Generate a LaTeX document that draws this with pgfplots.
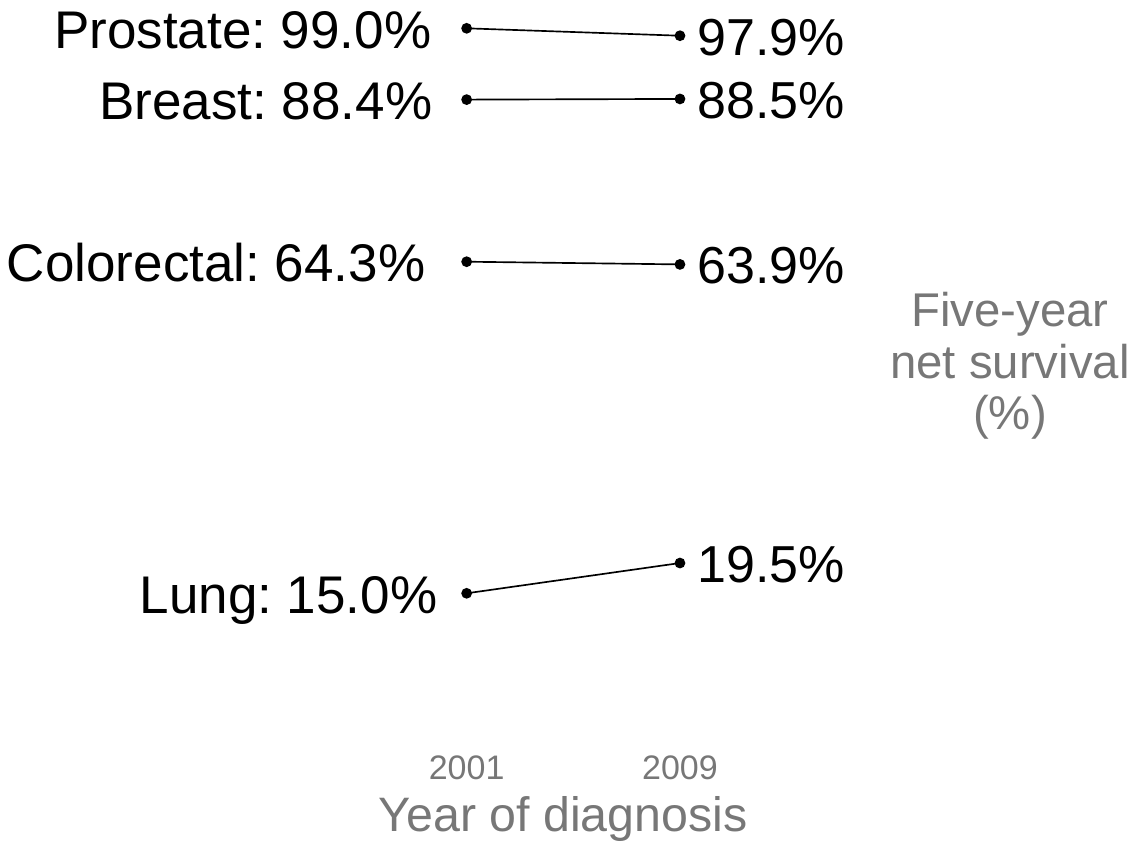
\documentclass[border=0pt]{standalone}
\usepackage{fontspec}
\setmainfont{Liberation Sans}
\usepackage{pgfplots}
\usepackage{pgfplotstable}
\pgfplotsset{compat=1.18}
\definecolor{labgrey}{RGB}{119,119,119}
\frenchspacing

% 2001 values, label text, horizontal offset of the label (pt)
\pgfplotstableread[col sep=comma]{
x,y,dx,lab
2001,99.0,-10.4,Prostate: 99.0\%
2001,88.4,-10.1,Breast: 88.4\%
2001,64.3,-12.2,Colorectal: 64.3\%
2001,15.0,-8.6,Lung: 15.0\%
}\lefttab
% 2009 values
\pgfplotstableread[col sep=comma]{
x,y,lab
2009,97.9,97.9\%
2009,88.5,88.5\%
2009,63.9,63.9\%
2009,19.5,19.5\%
}\righttab

\begin{document}
\begin{tikzpicture}
\begin{axis}[
    scale only axis, width=341.1pt, height=222pt,
    xmin=1983.50, xmax=2026.14, ymin=-6.81, ymax=103.21,
    axis line style={draw=none}, tick style={draw=none}, major tick length=0pt,
    xtick={2001,2009}, xticklabels={2001,2009}, ytick=\empty,
    xticklabel style={font=\fontsize{10.2}{12}\selectfont, text=labgrey, anchor=base, yshift=-12pt},
    xlabel={Year of diagnosis},
    every axis x label/.style={at={(rel axis cs:0.4952,0)}, anchor=base, yshift=-27.4pt,
        font=\fontsize{14.5}{17}\selectfont, text=labgrey},
    ylabel={Five-year\\net survival\\(\%)},
    every axis y label/.style={at={(rel axis cs:0.8883,0.5054)}, anchor=center, align=center,
        inner sep=0pt, font=\fontsize{14.2}{15.5}\selectfont, text=labgrey},
    clip=false,
]
\addplot[black, line width=0.5pt, mark=*, mark size=1.35pt] coordinates {(2001,99.0) (2009,97.9)};
\addplot[black, line width=0.5pt, mark=*, mark size=1.35pt] coordinates {(2001,88.4) (2009,88.5)};
\addplot[black, line width=0.5pt, mark=*, mark size=1.35pt] coordinates {(2001,64.3) (2009,63.9)};
\addplot[black, line width=0.5pt, mark=*, mark size=1.35pt] coordinates {(2001,15.0) (2009,19.5)};

\addplot[draw=none, mark=none, nodes near coords, point meta=explicit symbolic,
    visualization depends on={\thisrow{dx} \as \dx},
    every node near coord/.style={anchor=base east, inner sep=0pt, xshift=\dx pt, yshift=-6pt,
        font=\fontsize{15.9}{18}\selectfont, text=black}]
    table[x=x, y=y, meta=lab] {\lefttab};
\addplot[draw=none, mark=none, nodes near coords, point meta=explicit symbolic,
    every node near coord/.style={anchor=base west, inner sep=0pt, xshift=5.1pt, yshift=-5.8pt,
        font=\fontsize{15.6}{18}\selectfont, text=black}]
    table[x=x, y=y, meta=lab] {\righttab};

\coordinate (bl) at (rel axis cs:0,-0.1473);
\coordinate (tr) at (rel axis cs:1,1);
\end{axis}
\pgfresetboundingbox
\path (bl) rectangle (tr);
\end{tikzpicture}
\end{document}
